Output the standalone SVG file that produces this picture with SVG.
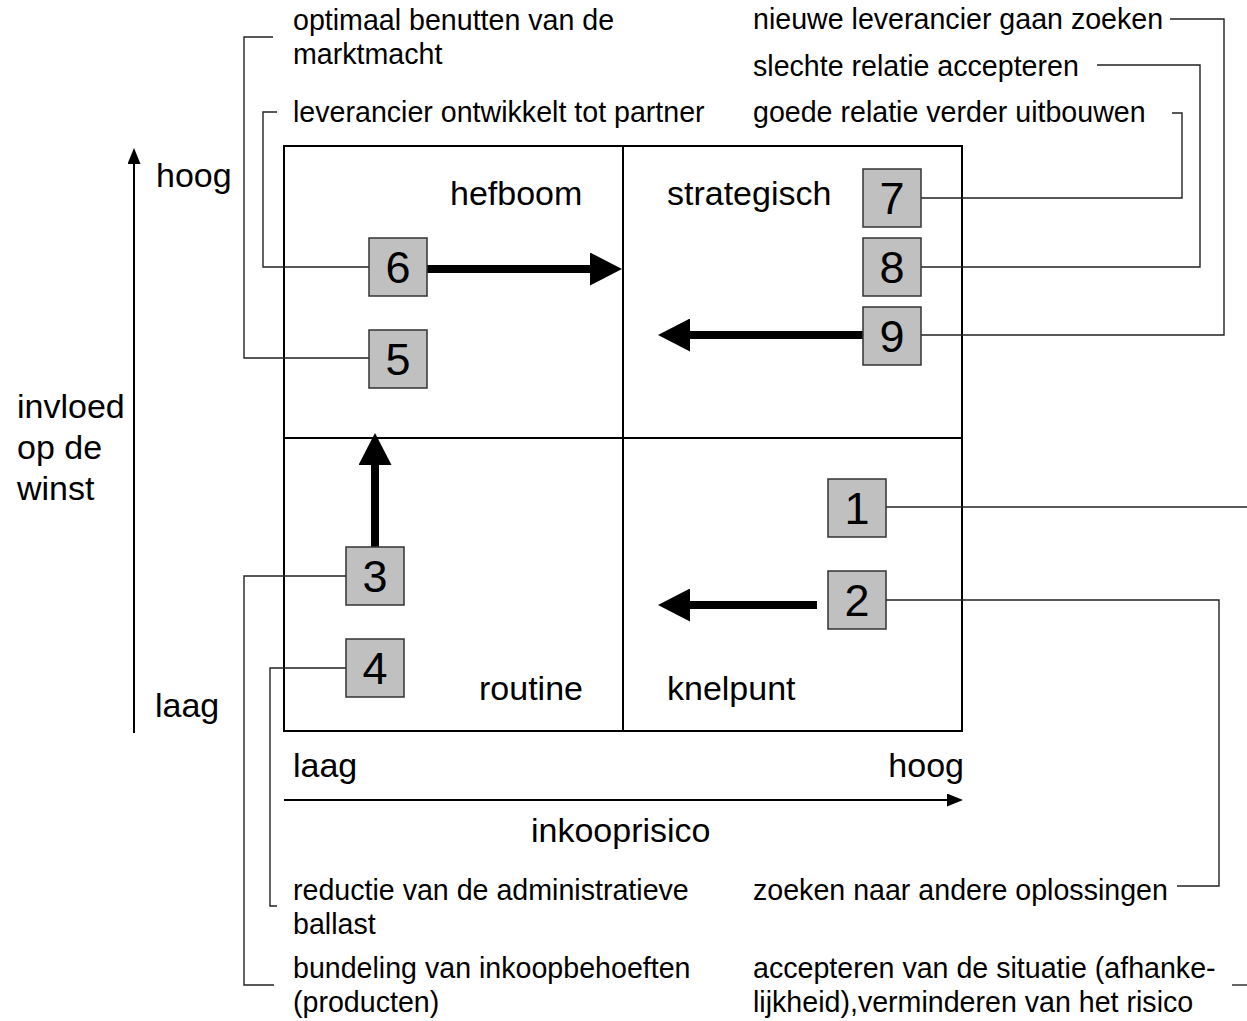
<svg xmlns="http://www.w3.org/2000/svg" width="1247" height="1021" viewBox="0 0 1247 1021">
  <style>
    text { font-family: "Liberation Sans", Arial, sans-serif; fill: #000; }
    .quad { font-size: 34px; }
    .axis { font-size: 34px; }
    .note { font-size: 28.6px; }
    .num { font-size: 45px; text-anchor: middle; }
    .box { fill: #c0c0c0; stroke: #333; stroke-width: 1.5; }
    .grid { fill: none; stroke: #000; stroke-width: 2; }
    .link { fill: none; stroke: #222; stroke-width: 1.4; }
    .move { stroke: #000; stroke-width: 8; fill: none; }
    .axisline { stroke: #000; stroke-width: 2; fill: none; }
  </style>
  <defs>
    <marker id="bigHead" markerUnits="userSpaceOnUse" markerWidth="32" markerHeight="33" refX="0" refY="16.5" orient="auto">
      <path d="M0,0 L32,16.5 L0,33 Z" fill="#000"/>
    </marker>
    <marker id="axisHead" markerUnits="userSpaceOnUse" markerWidth="16" markerHeight="13" refX="0" refY="6.5" orient="auto">
      <path d="M0,0 L16,6.5 L0,13 Z" fill="#000"/>
    </marker>
  </defs>

  <rect width="1247" height="1021" fill="#fff"/>

  <!-- portfolio matrix -->
  <g id="matrix">
    <rect class="grid" x="284" y="146" width="678" height="585"/>
    <line class="grid" x1="623" y1="146" x2="623" y2="731"/>
    <line class="grid" x1="284" y1="438" x2="962" y2="438"/>
  </g>

  <!-- quadrant names -->
  <g id="q-hefboom"><text class="quad" x="450" y="205">hefboom</text></g>
  <g id="q-strategisch"><text class="quad" x="667" y="205">strategisch</text></g>
  <g id="q-routine"><text class="quad" x="479" y="700">routine</text></g>
  <g id="q-knelpunt"><text class="quad" x="667" y="700">knelpunt</text></g>

  <!-- axes -->
  <g id="axis-y">
    <line class="axisline" x1="134" y1="733" x2="134" y2="164" marker-end="url(#axisHead)"/>
    <text class="axis" x="156" y="187">hoog</text>
    <text class="axis" x="155" y="717">laag</text>
    <text class="axis" x="17" y="418">invloed</text>
    <text class="axis" x="17" y="459">op de</text>
    <text class="axis" x="17" y="500">winst</text>
  </g>
  <g id="axis-x">
    <line class="axisline" x1="284" y1="800" x2="947" y2="800" marker-end="url(#axisHead)"/>
    <text class="axis" x="293" y="777">laag</text>
    <text class="axis" x="964" y="777" text-anchor="end">hoog</text>
    <text class="axis" x="531" y="842">inkooprisico</text>
  </g>

  <!-- connectors: leader lines and movement arrows -->
  <g id="connectors">
    <path class="link" d="M369,358 H244 V37 H273"/>
    <path class="link" d="M369,267 H263 V112 H277"/>
    <path class="link" d="M921,198 H1182 V113 H1172"/>
    <path class="link" d="M921,267 H1200 V65 H1097"/>
    <path class="link" d="M921,335 H1224 V19 H1170"/>
    <path class="link" d="M886,507 H1247"/>
    <path class="link" d="M1232,985 H1247"/>
    <path class="link" d="M886,600 H1219 V886 H1177"/>
    <path class="link" d="M346,576 H244 V985 H274"/>
    <path class="link" d="M346,668 H270 V906 H277"/>

    <line class="move" x1="427" y1="269" x2="590" y2="269" marker-end="url(#bigHead)"/>
    <line class="move" x1="863" y1="335" x2="690" y2="335" marker-end="url(#bigHead)"/>
    <line class="move" x1="817" y1="605" x2="690" y2="605" marker-end="url(#bigHead)"/>
    <line class="move" x1="375" y1="547" x2="375" y2="465" marker-end="url(#bigHead)"/>
  </g>

  <!-- numbered items -->
  <g id="item-1"><rect class="box" x="828" y="479" width="58" height="58"/><text class="num" x="857" y="524">1</text></g>
  <g id="item-2"><rect class="box" x="828" y="571" width="58" height="58"/><text class="num" x="857" y="616">2</text></g>
  <g id="item-3"><rect class="box" x="346" y="547" width="58" height="58"/><text class="num" x="375" y="592">3</text></g>
  <g id="item-4"><rect class="box" x="346" y="639" width="58" height="58"/><text class="num" x="375" y="684">4</text></g>
  <g id="item-5"><rect class="box" x="369" y="330" width="58" height="58"/><text class="num" x="398" y="375">5</text></g>
  <g id="item-6"><rect class="box" x="369" y="238" width="58" height="58"/><text class="num" x="398" y="283">6</text></g>
  <g id="item-7"><rect class="box" x="863" y="169" width="58" height="58"/><text class="num" x="892" y="214">7</text></g>
  <g id="item-8"><rect class="box" x="863" y="238" width="58" height="58"/><text class="num" x="892" y="283">8</text></g>
  <g id="item-9"><rect class="box" x="863" y="307" width="58" height="58"/><text class="num" x="892" y="352">9</text></g>

  <!-- strategy notes -->
  <g id="note-5"><text class="note" x="293" y="30">optimaal benutten van de</text><text class="note" x="293" y="64">marktmacht</text></g>
  <g id="note-6"><text class="note" x="293" y="122">leverancier ontwikkelt tot partner</text></g>
  <g id="note-9"><text class="note" x="753" y="29">nieuwe leverancier gaan zoeken</text></g>
  <g id="note-8"><text class="note" x="753" y="76">slechte relatie accepteren</text></g>
  <g id="note-7"><text class="note" x="753" y="122">goede relatie verder uitbouwen</text></g>
  <g id="note-4"><text class="note" x="293" y="900">reductie van de administratieve</text><text class="note" x="293" y="934">ballast</text></g>
  <g id="note-2"><text class="note" x="753" y="900">zoeken naar andere oplossingen</text></g>
  <g id="note-3"><text class="note" x="293" y="978">bundeling van inkoopbehoeften</text><text class="note" x="293" y="1012">(producten)</text></g>
  <g id="note-1"><text class="note" x="753" y="978">accepteren van de situatie (afhanke-</text><text class="note" x="753" y="1012">lijkheid),verminderen van het risico</text></g>
</svg>
